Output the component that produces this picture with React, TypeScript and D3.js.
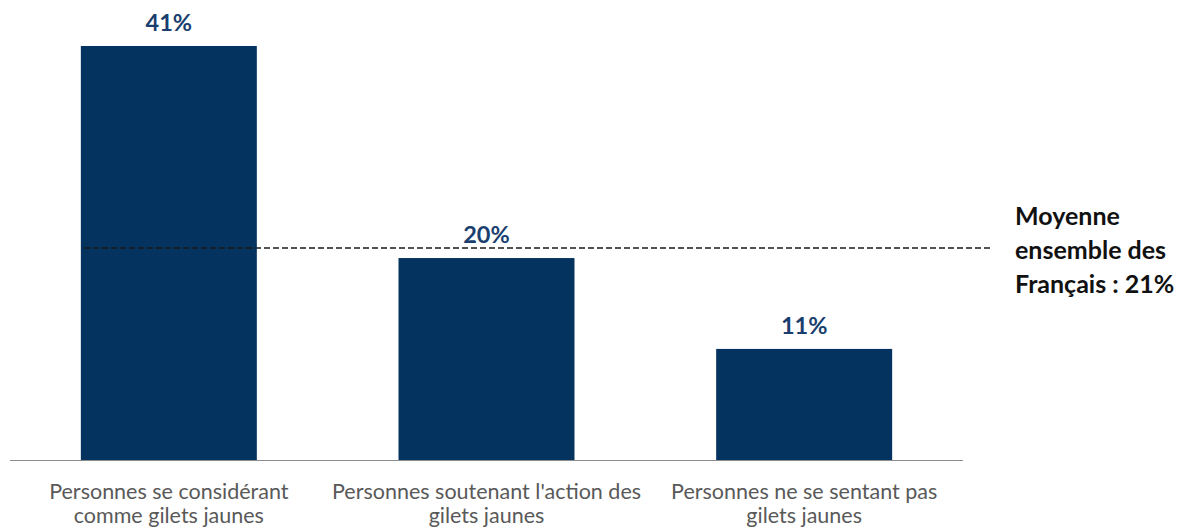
import React from "react";
import * as d3 from "d3";

const categories: string[][] = [
  ["Personnes se considérant", "comme gilets jaunes"],
  ["Personnes soutenant l'action des", "gilets jaunes"],
  ["Personnes ne se sentant pas", "gilets jaunes"],
];
const values: number[] = [41, 20, 11];
const average = 21;
const averageLabel: string[] = ["Moyenne", "ensemble des", "Français : 21%"];

const W = 1177;
const H = 528;
const FONT = "Lato, 'Open Sans', 'DejaVu Sans', sans-serif";

export default function App() {
  const axisLeft = 10;
  const axisRight = 963;
  const baseline = 460;
  const x = d3
    .scaleBand<number>()
    .domain(values.map((_, i) => i))
    .range([axisLeft, axisRight])
    .paddingInner(0.446)
    .paddingOuter(0.223);
  const y = d3.scaleLinear().domain([0, 41]).range([baseline, 46]);
  const ya = y(average);

  return (
    <svg
      width={W}
      height={H}
      style={{ position: "absolute", left: 0, top: 0, background: "#fff" }}
    >
      {values.map((v, i) => (
        <g key={i}>
          <rect
            x={x(i)!}
            y={y(v)}
            width={x.bandwidth()}
            height={baseline - y(v)}
            fill="#05335f"
          />
          <text
            x={x(i)! + x.bandwidth() / 2}
            y={y(v) - 15}
            textAnchor="middle"
            fontFamily={FONT}
            fontWeight={700}
            fontSize={23.5}
            fill="#1a3f6f"
          >
            {v}%
          </text>
          {categories[i].map((line, j) => (
            <text
              key={j}
              x={x(i)! + x.bandwidth() / 2}
              y={499 + j * 24}
              textAnchor="middle"
              fontFamily={FONT}
              fontSize={21.5}
              fill="#595959"
            >
              {line}
            </text>
          ))}
        </g>
      ))}
      <line
        x1={axisLeft}
        x2={axisRight}
        y1={baseline + 0.5}
        y2={baseline + 0.5}
        stroke="#8c8c8c"
        strokeWidth={1.2}
      />
      <line
        x1={84}
        x2={992}
        y1={ya}
        y2={ya}
        stroke="#1a1a1a"
        strokeWidth={1.6}
        strokeDasharray="6 3"
      />
      {averageLabel.map((line, j) => (
        <text
          key={j}
          x={1015}
          y={225 + j * 34}
          fontFamily={FONT}
          fontWeight={700}
          fontSize={25}
          fill="#111"
        >
          {line}
        </text>
      ))}
    </svg>
  );
}
